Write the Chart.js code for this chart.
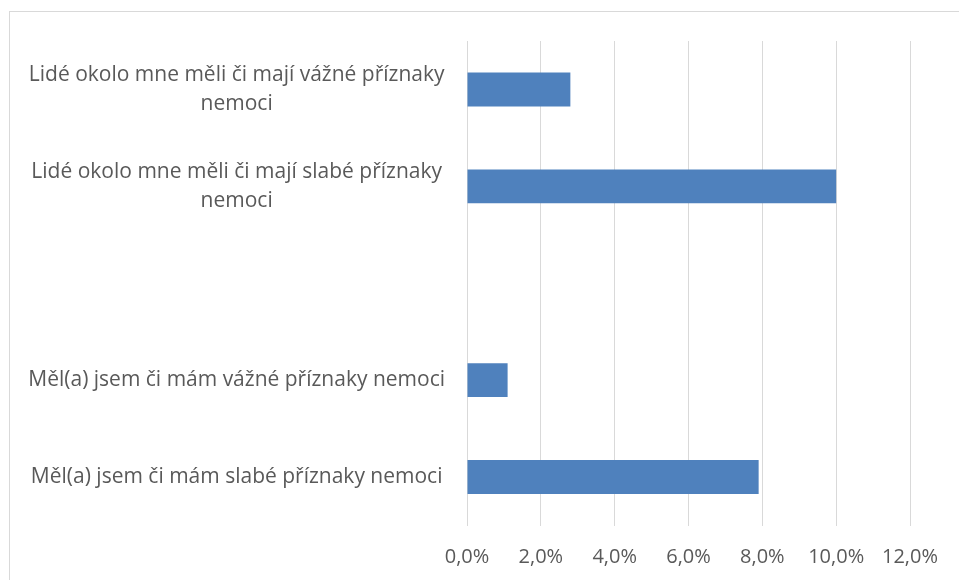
<!DOCTYPE html>
<html>
<head>
<meta charset="utf-8">
<script src="https://cdn.jsdelivr.net/npm/chart.js@4/dist/chart.umd.min.js"></script>
<style>
    html, body {
        margin: 0;
        padding: 0;
        background: #ffffff;
        overflow: hidden;
    }
    #frame {
        position: absolute;
        left: 9px;
        top: 11px;
        width: 1000px;
        height: 600px;
        border-left: 1px solid #d9d9d9;
        border-top: 1px solid #d9d9d9;
    }
    #wrap {
        position: absolute;
        left: 0;
        top: 0;
        width: 959px;
        height: 580px;
    }
</style>
</head>
<body>
<div id="frame"></div>
<div id="wrap">
    <canvas id="symptomChart"></canvas>
</div>
<script>
// ==========================
// DATA
// ==========================

const categories = [
    ["Lidé okolo mne měli či mají vážné příznaky", "nemoci"],
    ["Lidé okolo mne měli či mají slabé příznaky", "nemoci"],
    "",
    "Měl(a) jsem či mám vážné příznaky nemoci",
    "Měl(a) jsem či mám slabé příznaky nemoci"
];

// percent of respondents
const shares = [
    2.8,
    10.0,
    null,
    1.1,
    7.9
];

const axisTicks = [0, 2, 4, 6, 8, 10, 12];

// ==========================
// CHART
// ==========================

const textColor = "#595959";
const gridColor = "#d9d9d9";

new Chart(
    document.getElementById("symptomChart"),
    {
        type: "bar",
        data: {
            labels: categories,
            datasets: [{
                data: shares,
                backgroundColor: "#4f81bd",
                barPercentage: 0.7,
                categoryPercentage: 0.5
            }]
        },
        options: {
            indexAxis: "y",
            responsive: true,
            maintainAspectRatio: false,
            animation: false,
            layout: {
                padding: {
                    top: 41,
                    right: 49,
                    bottom: 0,
                    left: 0
                }
            },
            plugins: {
                legend: { display: false },
                tooltip: { enabled: false }
            },
            scales: {
                x: {
                    min: axisTicks[0],
                    max: axisTicks[axisTicks.length - 1],
                    afterBuildTicks: scale => {
                        scale.ticks =
                        axisTicks.map(v => ({ value: v }));
                    },
                    afterFit: scale => {
                        scale.height = 54.5;
                    },
                    grid: {
                        color: gridColor,
                        lineWidth: 1,
                        drawTicks: false
                    },
                    border: { display: false },
                    ticks: {
                        padding: 20,
                        color: textColor,
                        font: {
                            family: "'Open Sans'",
                            size: 20
                        },
                        callback: v =>
                        v.toFixed(1).replace(".", ",") + "%"
                    }
                },
                y: {
                    afterFit: scale => {
                        scale.width = 467;
                    },
                    grid: {
                        display: false,
                        drawTicks: false
                    },
                    border: {
                        display: true,
                        color: gridColor
                    },
                    ticks: {
                        crossAlign: "center",
                        padding: 22,
                        color: textColor,
                        font: {
                            family: "'Open Sans'",
                            size: 21,
                            lineHeight: 1.38
                        }
                    }
                }
            }
        }
    }
);
</script>
</body>
</html>
